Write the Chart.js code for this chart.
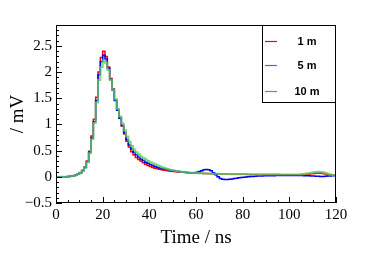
<!DOCTYPE html>
<html>
<head>
<meta charset="utf-8">
<script src="https://cdn.jsdelivr.net/npm/chart.js@4.4.1/dist/chart.umd.min.js"></script>
<style>
html, body { margin: 0; padding: 0; background: #fff; }
canvas { display: block; }
</style>
</head>
<body>
<canvas id="pulseChart" width="374" height="255"></canvas>
<script>
// bin width of the histograms (ns), bins start at 0
const binWidth = 1;

const seriesLabels = ['1 m', '5 m', '10 m'];

// amplitude per bin (mV)
const amp1m = [
    0, 0, 0, 0, 0, 0.005, 0.01, 0.02, 0.03, 0.05,
    0.08, 0.12, 0.19, 0.30, 0.49, 0.78, 1.10, 1.52, 2.00, 2.28,
    2.40, 2.30, 2.10, 1.88, 1.68, 1.47, 1.27, 1.12, 0.97, 0.82,
    0.68, 0.57, 0.48, 0.42, 0.37, 0.33, 0.30, 0.27, 0.24, 0.215,
    0.195, 0.178, 0.165, 0.153, 0.143, 0.135, 0.127, 0.12, 0.113, 0.107,
    0.102, 0.097, 0.093, 0.089, 0.086, 0.083, 0.08, 0.077, 0.074, 0.072,
    0.07, 0.068, 0.066, 0.064, 0.062, 0.06, 0.058, 0.057, 0.056, 0.055,
    0.054, 0.053, 0.052, 0.051, 0.05, 0.05, 0.049, 0.049, 0.048, 0.048,
    0.047, 0.047, 0.046, 0.046, 0.045, 0.045, 0.045, 0.044, 0.044, 0.044,
    0.043, 0.043, 0.043, 0.042, 0.042, 0.042, 0.041, 0.041, 0.041, 0.04,
    0.04, 0.04, 0.04, 0.04, 0.041, 0.042, 0.045, 0.05, 0.055, 0.06,
    0.065, 0.07, 0.072, 0.07, 0.065, 0.055, 0.045, 0.04, 0.035, 0.03
];

const amp5m = [
    0, 0, 0, 0, 0, 0.005, 0.01, 0.02, 0.03, 0.05,
    0.08, 0.12, 0.18, 0.29, 0.47, 0.74, 1.05, 1.46, 1.95, 2.20,
    2.32, 2.25, 2.08, 1.86, 1.66, 1.46, 1.27, 1.12, 0.98, 0.84,
    0.71, 0.61, 0.53, 0.47, 0.42, 0.38, 0.34, 0.31, 0.28, 0.26,
    0.235, 0.215, 0.198, 0.183, 0.17, 0.158, 0.148, 0.138, 0.13, 0.122,
    0.115, 0.108, 0.102, 0.097, 0.092, 0.088, 0.084, 0.08, 0.078, 0.08,
    0.087, 0.1, 0.118, 0.133, 0.14, 0.135, 0.115, 0.08, 0.04, 0.0,
    -0.03, -0.045, -0.05, -0.05, -0.048, -0.04, -0.032, -0.025, -0.018, -0.012,
    -0.007, -0.003, 0.0, 0.004, 0.008, 0.011, 0.014, 0.016, 0.018, 0.019,
    0.02, 0.021, 0.022, 0.022, 0.023, 0.023, 0.024, 0.024, 0.024, 0.025,
    0.025, 0.025, 0.025, 0.025, 0.024, 0.023, 0.022, 0.021, 0.02, 0.018,
    0.015, 0.012, 0.01, 0.008, 0.008, 0.01, 0.014, 0.018, 0.02, 0.02
];

const amp10m = [
    0, 0, 0, 0, 0, 0.005, 0.01, 0.02, 0.03, 0.05,
    0.08, 0.12, 0.18, 0.28, 0.45, 0.72, 1.03, 1.42, 1.85, 2.10,
    2.22, 2.18, 2.04, 1.85, 1.67, 1.48, 1.30, 1.15, 1.02, 0.89,
    0.77, 0.67, 0.59, 0.52, 0.47, 0.43, 0.39, 0.36, 0.33, 0.30,
    0.28, 0.26, 0.24, 0.22, 0.20, 0.185, 0.17, 0.155, 0.142, 0.13,
    0.12, 0.112, 0.105, 0.098, 0.092, 0.087, 0.083, 0.079, 0.076, 0.073,
    0.071, 0.069, 0.067, 0.065, 0.063, 0.062, 0.06, 0.059, 0.058, 0.057,
    0.056, 0.055, 0.054, 0.053, 0.052, 0.051, 0.05, 0.05, 0.049, 0.049,
    0.048, 0.048, 0.047, 0.047, 0.046, 0.046, 0.046, 0.045, 0.045, 0.045,
    0.044, 0.044, 0.044, 0.043, 0.043, 0.043, 0.042, 0.042, 0.042, 0.042,
    0.042, 0.042, 0.043, 0.044, 0.046, 0.05, 0.055, 0.062, 0.07, 0.078,
    0.085, 0.09, 0.095, 0.092, 0.085, 0.072, 0.058, 0.045, 0.037, 0.03
];

const xRange = [0, 120];
const yRange = [-0.5, 2.9];
const xMajorStep = 20;
const xMinorStep = 5;
const yMajorStep = 0.5;
const yMinorStep = 0.1;

// histogram -> points at bin edges, last edge repeats last value
function toSteps(values) {
    const pts = values.map((v, i) => ({ x: i * binWidth, y: v }));
    pts.push({ x: values.length * binWidth, y: values[values.length - 1] });
    return pts;
}

const serifFont = '"Liberation Serif", "DejaVu Serif", serif';

// frame, inward ticks and boxed legend (ROOT look)
const rootFrame = {
    id: 'rootFrame',
    afterDatasetsDraw(chart) {
        const { ctx, chartArea: a, scales: { x, y } } = chart;
        ctx.save();
        ctx.strokeStyle = '#000';
        ctx.lineWidth = 1;
        ctx.strokeRect(a.left + 0.5, a.top + 0.5, a.right - a.left - 1, a.bottom - a.top - 1);

        ctx.beginPath();
        const nx = Math.round((xRange[1] - xRange[0]) / xMinorStep);
        for (let k = 0; k <= nx; k++) {
            const t = xRange[0] + k * xMinorStep;
            const px = Math.round(x.getPixelForValue(t)) + 0.5;
            const len = (k % (xMajorStep / xMinorStep) === 0) ? 6 : 3;
            ctx.moveTo(px, a.bottom);
            ctx.lineTo(px, a.bottom - len);
        }
        const ny = Math.floor((yRange[1] - yRange[0]) / yMinorStep + 1e-6);
        const perMajor = Math.round(yMajorStep / yMinorStep);
        for (let k = 0; k <= ny; k++) {
            const v = yRange[0] + k * yMinorStep;
            const py = Math.round(y.getPixelForValue(v)) + 0.5;
            const len = (k % perMajor === 0) ? 6 : 3;
            ctx.moveTo(a.left, py);
            ctx.lineTo(a.left + len, py);
        }
        ctx.stroke();

        // legend box in the upper right corner
        const boxW = 74, boxH = 77;
        const bx = a.right - boxW, by = a.top;
        ctx.fillStyle = '#fff';
        ctx.fillRect(bx, by, boxW, boxH);
        ctx.strokeRect(bx + 0.5, by + 0.5, boxW - 1, boxH);
        const rows = [15.5, 39.5, 65.5];
        const legendColors = ['#ff0000', '#5a5aff', '#3cb43c'];
        ctx.font = 'bold 11px "Liberation Sans", Arial, sans-serif';
        ctx.textAlign = 'center';
        ctx.textBaseline = 'middle';
        chart.data.datasets.forEach((ds, i) => {
            const ry = Math.round(by + rows[i]) + 0.5;
            ctx.strokeStyle = legendColors[i];
            ctx.lineWidth = 1.2;
            ctx.beginPath();
            ctx.moveTo(bx + 3, ry);
            ctx.lineTo(bx + 15, ry);
            ctx.stroke();
            ctx.fillStyle = '#000';
            ctx.fillText(ds.label, bx + 45, ry + 0.5);
        });
        ctx.restore();
    }
};

// green drawn on top, then blue, red underneath
const datasets = [
    { label: seriesLabels[0], data: toSteps(amp1m), borderColor: '#ff0000', borderWidth: 1.5, order: 2 },
    { label: seriesLabels[1], data: toSteps(amp5m), borderColor: '#0000ff', borderWidth: 1.5, order: 1 },
    { label: seriesLabels[2], data: toSteps(amp10m), borderColor: 'rgba(90, 205, 90, 0.8)', borderWidth: 2, order: 0 }
].map(ds => Object.assign(ds, { stepped: true, pointRadius: 0, fill: false, tension: 0 }));

new Chart(document.getElementById('pulseChart').getContext('2d'), {
    type: 'line',
    data: { datasets: datasets },
    options: {
        responsive: false,
        animation: false,
        events: [],
        layout: { padding: { top: 25, right: 38, left: 0, bottom: 0 } },
        plugins: { legend: { display: false }, tooltip: { enabled: false } },
        scales: {
            x: {
                type: 'linear',
                min: xRange[0],
                max: xRange[1],
                grid: { display: false, drawTicks: false },
                border: { display: false },
                ticks: {
                    stepSize: xMajorStep,
                    padding: 3,
                    color: '#000',
                    font: { family: serifFont, size: 15 },
                    maxRotation: 0
                },
                title: {
                    display: true,
                    text: 'Time / ns',
                    color: '#000',
                    font: { family: serifFont, size: 19 },
                    padding: { top: 0, bottom: 6 }
                },
                afterFit: scale => { scale.height = 52; }
            },
            y: {
                min: yRange[0],
                max: yRange[1],
                grid: { display: false, drawTicks: false },
                border: { display: false },
                ticks: {
                    stepSize: yMajorStep,
                    padding: 4,
                    color: '#000',
                    font: { family: serifFont, size: 15 },
                    callback: v => String(Math.round(v * 10) / 10).replace('-', '\u2212')
                },
                afterBuildTicks: scale => {
                    scale.ticks = scale.ticks.filter(t => Math.abs(t.value / yMajorStep - Math.round(t.value / yMajorStep)) < 1e-6);
                },
                title: {
                    display: true,
                    text: '/ mV',
                    color: '#000',
                    font: { family: serifFont, size: 19 },
                    padding: { top: 7, bottom: 0 }
                },
                afterFit: scale => { scale.width = 56; }
            }
        }
    },
    plugins: [rootFrame]
});
</script>
</body>
</html>
